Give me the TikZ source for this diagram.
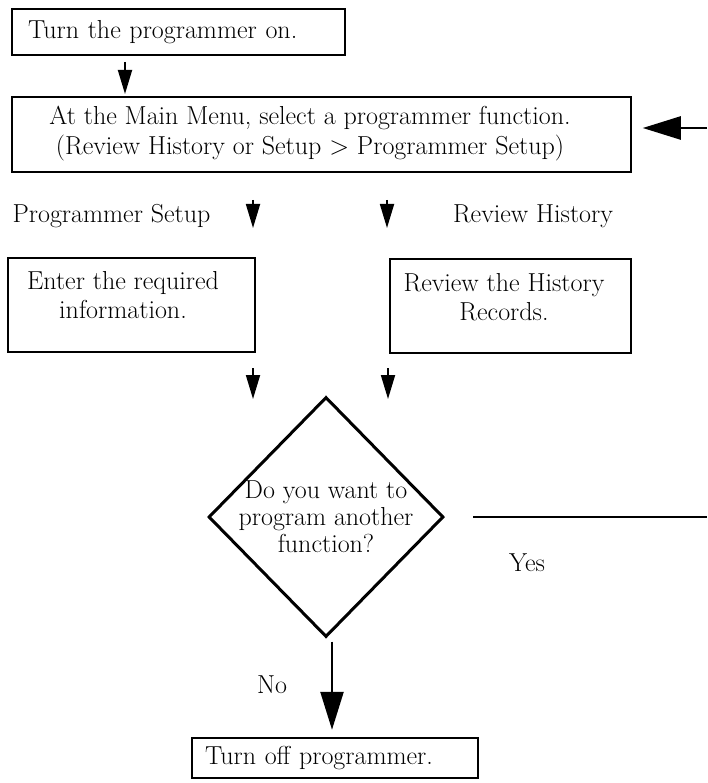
\documentclass[tikz,border=0pt]{standalone}
\usetikzlibrary{shapes.geometric,arrows.meta}
\begin{document}
\begin{tikzpicture}[x=1pt,y=-1pt]
\tikzset{
 box/.style={draw, line width=1.5pt, inner sep=0pt},
 txt/.style={font=\fontsize{26}{28.5}\selectfont, align=center, inner sep=0pt},
 smallarr/.style={line width=1.8pt, -{Triangle[length=24pt,width=14pt]}},
 bigarr/.style={line width=2.5pt, -{Triangle[length=38pt,width=23pt]}},
}
\fill[white] (0,0) rectangle (707,783);
\useasboundingbox (0,0) rectangle (707,783);

\node[box, txt, minimum width=333pt, minimum height=46pt, text width=301pt, align=left] (on) at (178.5,32) {Turn the programmer on.};
\node[box, minimum width=619pt, minimum height=75pt] (menu) at (321.5,134.5) {};
\node[txt, font=\fontsize{26}{30}\selectfont] (menut) at (310,134) {At the Main Menu, select a programmer function.\\(Review History or Setup > Programmer Setup)};
\node[txt] (ps) at (111.5,216) {Programmer Setup};
\node[txt] (rh) at (533,216) {Review History};
\node[box, minimum width=247pt, minimum height=94pt] (req) at (131.5,305) {};
\node[txt] (reqt) at (123,295) {Enter the required\\information.};
\node[box, minimum width=241pt, minimum height=94pt] (rec) at (510.5,306) {};
\node[txt] (rect) at (504,297) {Review the History\\Records.};
\node[draw, diamond, line width=3pt, minimum width=235pt, minimum height=240pt, inner sep=0pt] (q) at (326,517) {};
\node[txt, font=\fontsize{26}{27}\selectfont] (qt) at (326,517) {Do you want to\\program another\\function?};
\node[txt] (yes) at (527,563) {Yes};
\node[txt] (no) at (272,685) {No};
\node[box, line width=2.5pt, txt, minimum width=286pt, minimum height=40pt, text width=260pt, align=left] (off) at (335,758) {Turn off programmer.};

\coordinate (a1s) at (125,62); \coordinate (a1e) at (125,94);
\draw[smallarr] (a1s) -- (a1e);
\coordinate (b1s) at (253,200); \coordinate (b1e) at (253,228);
\coordinate (b2s) at (387,200); \coordinate (b2e) at (387,228);
\draw[smallarr] (b1s) -- (b1e);
\draw[smallarr] (b2s) -- (b2e);
\coordinate (c1s) at (253,368); \coordinate (c1e) at (253,399);
\coordinate (c2s) at (388,368); \coordinate (c2e) at (388,399);
\draw[smallarr] (c1s) -- (c1e);
\draw[smallarr] (c2s) -- (c2e);

\coordinate (back) at (707,128);
\draw[bigarr, shorten >=11pt] (back) -- (back -| menu.east);

\coordinate (yesEnd) at (707,517);
\draw[line width=2.5pt, shorten <=28pt] (q.east) -- (q.east -| yesEnd);

\coordinate (noX) at (332,0);
\draw[bigarr, shorten <=3pt, shorten >=7pt] (q.south -| noX) -- (off.north -| noX);
\end{tikzpicture}
\end{document}
